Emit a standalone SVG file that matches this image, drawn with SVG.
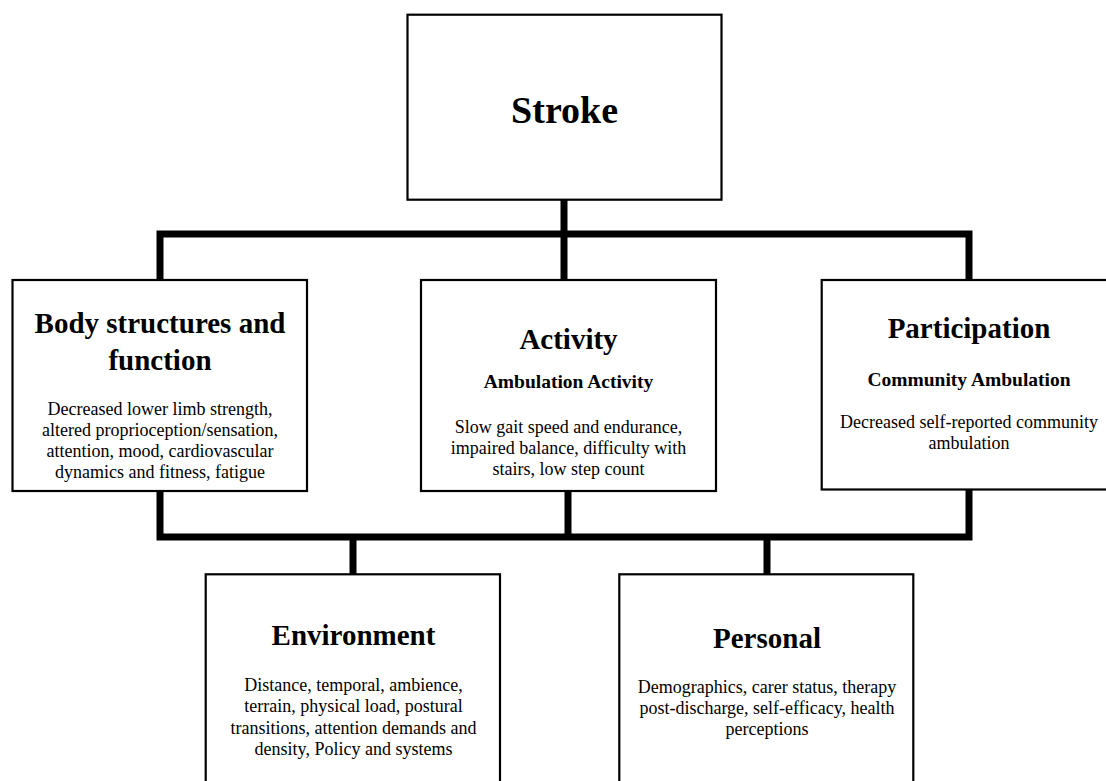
<svg xmlns="http://www.w3.org/2000/svg" width="1106" height="781" viewBox="0 0 1106 781">
<style>
.box{fill:#fff;stroke:#000;stroke-width:2.2}
.con{fill:none;stroke:#000;stroke-width:7;stroke-linejoin:miter;stroke-linecap:butt}
text{font-family:"Liberation Serif","Times New Roman",serif;fill:#000;text-anchor:middle}
.big{font-size:38px;font-weight:bold}
.t{font-size:29px;font-weight:bold}
.s{font-size:19.5px;font-weight:bold}
.d{font-size:18px}
</style>
<rect width="1106" height="781" fill="#fff"/>
<g id="connectors">
<path class="con" d="M564,200 V234"/>
<path class="con" d="M160,280 V234 H969 V280"/>
<path class="con" d="M564,234 V280"/>
<path class="con" d="M160,491 V537 H969 V489"/>
<path class="con" d="M568,491 V537"/>
<path class="con" d="M353,537 V574"/>
<path class="con" d="M767,537 V574"/>
</g>
<g id="stroke">
<rect class="box" x="407.5" y="14.7" width="314" height="185"/>
<text class="big" x="564.6" y="123">Stroke</text>
</g>
<g id="body">
<rect class="box" x="12.5" y="280" width="294.5" height="211"/>
<text class="t" x="160" y="333">Body structures and</text>
<text class="t" x="160" y="370">function</text>
<text class="d" x="160" y="415">Decreased lower limb strength,</text>
<text class="d" x="160" y="436">altered proprioception/sensation,</text>
<text class="d" x="160" y="457">attention, mood, cardiovascular</text>
<text class="d" x="160" y="478">dynamics and fitness, fatigue</text>
</g>
<g id="activity">
<rect class="box" x="421" y="280" width="295" height="211"/>
<text class="t" x="568.5" y="349">Activity</text>
<text class="s" x="568.5" y="388">Ambulation Activity</text>
<text class="d" x="568.5" y="433">Slow gait speed and endurance,</text>
<text class="d" x="568.5" y="454">impaired balance, difficulty with</text>
<text class="d" x="568.5" y="475">stairs, low step count</text>
</g>
<g id="participation">
<rect class="box" x="821.7" y="280" width="295" height="209.5"/>
<text class="t" x="969" y="338">Participation</text>
<text class="s" x="969" y="386">Community Ambulation</text>
<text class="d" x="969" y="428">Decreased self-reported community</text>
<text class="d" x="969" y="449">ambulation</text>
</g>
<g id="environment">
<rect class="box" x="205.7" y="574.3" width="294.3" height="230"/>
<text class="t" x="353.5" y="645">Environment</text>
<text class="d" x="353.5" y="691">Distance, temporal, ambience,</text>
<text class="d" x="353.5" y="712">terrain, physical load, postural</text>
<text class="d" x="353.5" y="734">transitions, attention demands and</text>
<text class="d" x="353.5" y="755">density, Policy and systems</text>
</g>
<g id="personal">
<rect class="box" x="619.3" y="574.3" width="294" height="230"/>
<text class="t" x="767" y="648">Personal</text>
<text class="d" x="767" y="693">Demographics, carer status, therapy</text>
<text class="d" x="767" y="714">post-discharge, self-efficacy, health</text>
<text class="d" x="767" y="735">perceptions</text>
</g>
</svg>
